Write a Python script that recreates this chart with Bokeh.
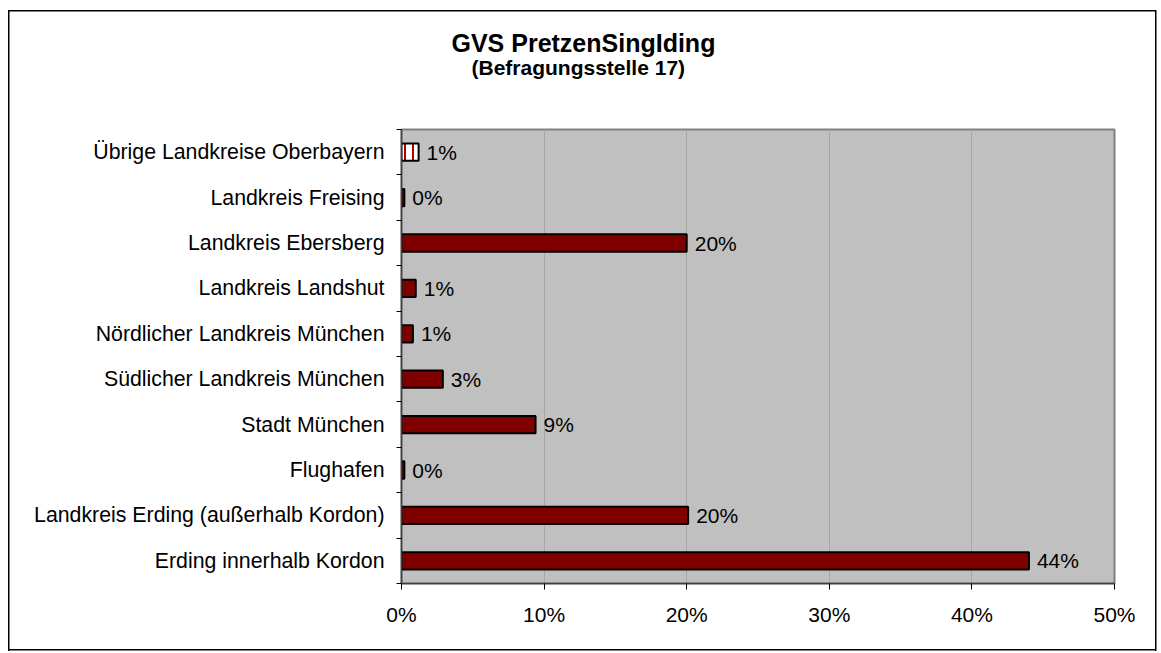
from bokeh.plotting import figure
from bokeh.models import ColumnDataSource, Range1d, FixedTicker, Title
from bokeh.core.properties import value
from bokeh.embed import file_html
from bokeh.resources import INLINE

# ---- data (bottom to top) ----
categories = [
    "Erding innerhalb Kordon",
    "Landkreis Erding (außerhalb Kordon)",
    "Flughafen",
    "Stadt München",
    "Südlicher Landkreis München",
    "Nördlicher Landkreis München",
    "Landkreis Landshut",
    "Landkreis Ebersberg",
    "Landkreis Freising",
    "Übrige Landkreise Oberbayern",
]
shares = [44.0, 20.1, 0.2, 9.4, 2.9, 0.8, 1.0, 20.0, 0.2, 1.2]
x_ticks = [0, 10, 20, 30, 40, 50]
x_tick_labels = ["0%", "10%", "20%", "30%", "40%", "50%"]
title_text = "GVS PretzenSingIding"
subtitle_text = "(Befragungsstelle 17)"

FONT = "Liberation Sans"

ypos = [i + 0.5 for i in range(len(categories))]
fills = ["white" if c == "Übrige Landkreise Oberbayern" else "#800000" for c in categories]
hatches = ["|" if c == "Übrige Landkreise Oberbayern" else " " for c in categories]
labels = [f"{round(v)}%" for v in shares]

src = ColumnDataSource(dict(y=ypos, v=shares, fill=fills, hatch=hatches, lab=labels))

W, H = 1158, 651
ML, MR, MT, MB = 401, 44, 129, 68

# outer chart frame drawn as CSS background lines behind a transparent canvas
line = "linear-gradient(#000,#000)"
bg = ", ".join([
    f"{line} 8px 10px / 1.5px 641px no-repeat",
    f"{line} 1155px 10px / 1.5px 641px no-repeat",
    f"{line} 8px 10px / 1148px 1.5px no-repeat",
    f"{line} 8px 649px / 1148px 1.5px no-repeat",
])

p = figure(width=W, height=H, output_backend="svg", toolbar_location=None,
           x_range=Range1d(0, 50), y_range=Range1d(0, len(categories)),
           min_border_left=ML, min_border_right=MR, min_border_top=MT,
           min_border_bottom=MB, title=None,
           styles={"background": bg})

p.background_fill_color = "#C0C0C0"
p.border_fill_color = None
p.outline_line_color = "#808080"
p.outline_line_width = 2

# titles: left-aligned with offsets so they are centred over the whole chart
spacer = Title(text=" ", text_font_size="35px", text_font=FONT)
sub = Title(text=subtitle_text, align="left", offset=70, text_font=FONT,
            text_font_size="21px", text_font_style="bold", text_color="black",
            standoff=0)
main = Title(text=title_text, align="left", offset=50, text_font=FONT,
             text_font_size="25px", text_font_style="bold", text_color="black",
             standoff=-6)
p.add_layout(spacer, "above")
p.add_layout(sub, "above")
p.add_layout(main, "above")

p.hbar(y="y", left=0, right="v", height=0.38, source=src,
       fill_color="fill", line_color="black", line_width=2,
       hatch_pattern="hatch", hatch_color="#B00000", hatch_scale=8, hatch_weight=2)

p.text(x="v", y="y", text="lab", source=src, x_offset=8,
       text_baseline="middle", text_align="left",
       text_font=value(FONT), text_font_size="21px", text_color="black")

# x axis
xa = p.xaxis[0]
xa.ticker = FixedTicker(ticks=x_ticks)
xa.major_label_overrides = {t: l for t, l in zip(x_ticks, x_tick_labels)}
xa.major_label_text_font = FONT
xa.major_label_text_font_size = "21px"
xa.major_label_text_color = "black"
xa.axis_line_color = "#404040"
xa.axis_line_width = 1.5
xa.major_tick_line_color = "black"
xa.major_tick_out = 6
xa.major_tick_in = 0
xa.minor_tick_line_color = None
xa.major_label_standoff = 13

# y axis: labels at centers, ticks at category boundaries
ya = p.yaxis[0]
ya.ticker = FixedTicker(ticks=ypos, minor_ticks=list(range(len(categories) + 1)))
ya.major_label_overrides = {y: c for y, c in zip(ypos, categories)}
ya.major_label_text_font = FONT
ya.major_label_text_font_size = "21.3px"
ya.major_label_text_color = "black"
ya.axis_line_color = "#404040"
ya.axis_line_width = 1.5
ya.major_tick_line_color = None
ya.major_tick_out = 0
ya.major_tick_in = 0
ya.minor_tick_line_color = "black"
ya.minor_tick_out = 5
ya.minor_tick_in = 0
ya.major_label_standoff = 12

p.xgrid.grid_line_color = "#A6A6A6"
p.xgrid.grid_line_width = 1
p.ygrid.grid_line_color = None

open("out.html", "w").write(file_html(p, INLINE))
